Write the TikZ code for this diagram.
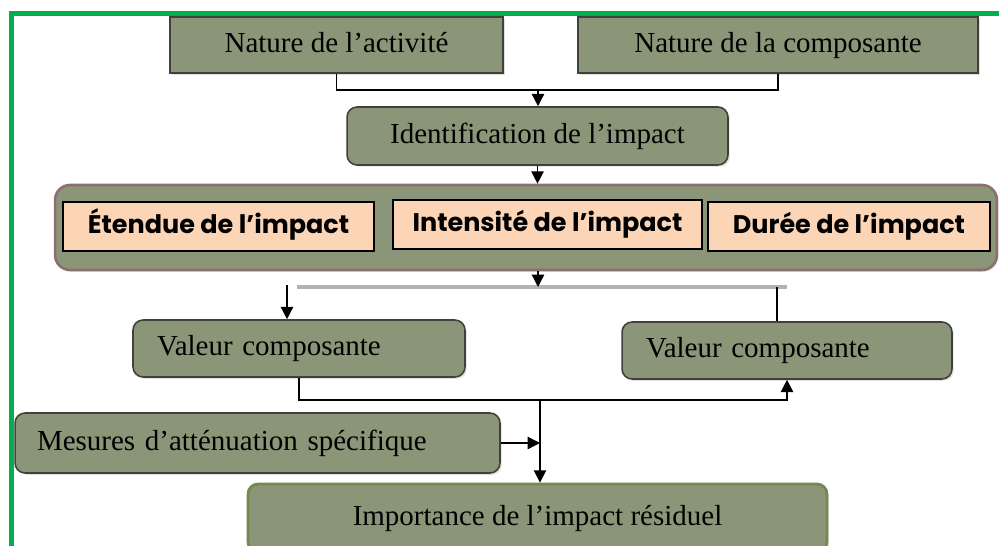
\documentclass[tikz,border=0pt]{standalone}
\usepackage{fontspec}
\setmainfont{Liberation Serif}
\newfontfamily\gothic{Poppins}
\usetikzlibrary{arrows.meta,shadows}
\definecolor{olivebox}{RGB}{139,149,120}
\definecolor{peach}{RGB}{251,213,181}
\definecolor{framegreen}{RGB}{0,176,80}
\definecolor{edge}{RGB}{64,64,60}
\newcommand{\lowtext}[1]{\raisebox{-4pt}[0pt][0pt]{#1}}
\begin{document}
\begin{tikzpicture}[x=0.02cm,y=-0.02cm,
	box/.style={draw=edge,line width=0.9pt,fill=olivebox,inner sep=0pt,
		text height=11pt,text depth=3pt,
		drop shadow={shadow xshift=1pt,shadow yshift=-1pt,opacity=0.25},
		font=\fontsize{16.5}{19}\selectfont},
	rbox/.style={box,rounded corners=0.2cm},
	lbox/.style={rbox,align=left,inner xsep=0.48cm},
	item/.style={draw=black,line width=0.9pt,fill=peach,inner sep=0pt,
		minimum height=0.98cm,font=\gothic\bfseries\fontsize{14.5}{17}\selectfont},
	link/.style={line width=0.8pt},
	arr/.style={link,-{Triangle[length=7pt,width=7pt]}}]

	\useasboundingbox (0,0) rectangle (999,546);
	\draw[framegreen,line width=2.3pt] (11.5,546) -- (11.5,13.5) -- (999,13.5);

	\node[box,minimum width=6.66cm,minimum height=1.12cm] (na) at (336.5,45) {Nature de l’activité};
	\node[box,minimum width=8cm,minimum height=1.12cm] (nc) at (778,45) {Nature de la composante};
	\node[rbox,minimum width=7.62cm,minimum height=1.16cm] (id) at (537.5,136) {Identification de l’impact};

	\node[draw={rgb,255:red,140;green,112;blue,112},line width=1.5pt,fill=olivebox,
		rounded corners=0.3cm,minimum width=18.84cm,minimum height=1.7cm,
		drop shadow={shadow xshift=1pt,shadow yshift=-1pt,opacity=0.2}] (big) at (526,227.5) {};
	\node[item,minimum width=6.22cm] (et) at (218.5,226.5) {\lowtext{Étendue de l’impact}};
	\node[item,minimum width=6.18cm] (in) at (547.5,224.5) {\lowtext{Intensité de l’impact}};
	\node[item,minimum width=5.64cm] (du) at (849,226.5) {\lowtext{Durée de l’impact}};

	\node[lbox,text width=5.68cm,minimum height=1.14cm] (vl) at (299,348.5) {Valeur composante};
	\node[lbox,text width=5.64cm,minimum height=1.14cm] (vr) at (787,350.5) {Valeur composante};
	\node[lbox,inner xsep=0.44cm,text width=8.82cm,minimum height=1.2cm] (me) at (257.5,443) {Mesures d’atténuation spécifique};
	\node[rbox,draw={rgb,255:red,118;green,136;blue,76},line width=1.6pt,
		minimum width=11.58cm,minimum height=1.36cm] (im) at (537.5,518) {Importance de l’impact résiduel};

	\coordinate (j1) at (538,90);
	\coordinate (j2) at (538,287);
	\coordinate (g1) at (297,287);
	\coordinate (g2) at (787,287);
	\coordinate (j3) at (287,285);
	\coordinate (j4) at (777,287);
	\coordinate (j5) at (540,400);

	\draw[link] (na.south) |- (j1) -| (nc.south);
	\draw[arr] (j1) -- (j1 |- id.north);
	\draw[arr] (id.south) -- (id.south |- big.north);
	\draw[line width=2pt,gray!60] (g1) -- (g2);
	\draw[arr] (big.south -| j2) -- (j2);
	\draw[arr] (j3) -- (j3 |- vl.north);
	\draw[link,line width=1.2pt] (j4) -- (j4 |- vr.north);
	\draw[arr] (vl.south) |- (j5) -| (vr.south);
	\draw[arr] (j5) -- (j5 |- im.north);
	\draw[arr] (me.east) -- (me.east -| j5);

\end{tikzpicture}
\end{document}
